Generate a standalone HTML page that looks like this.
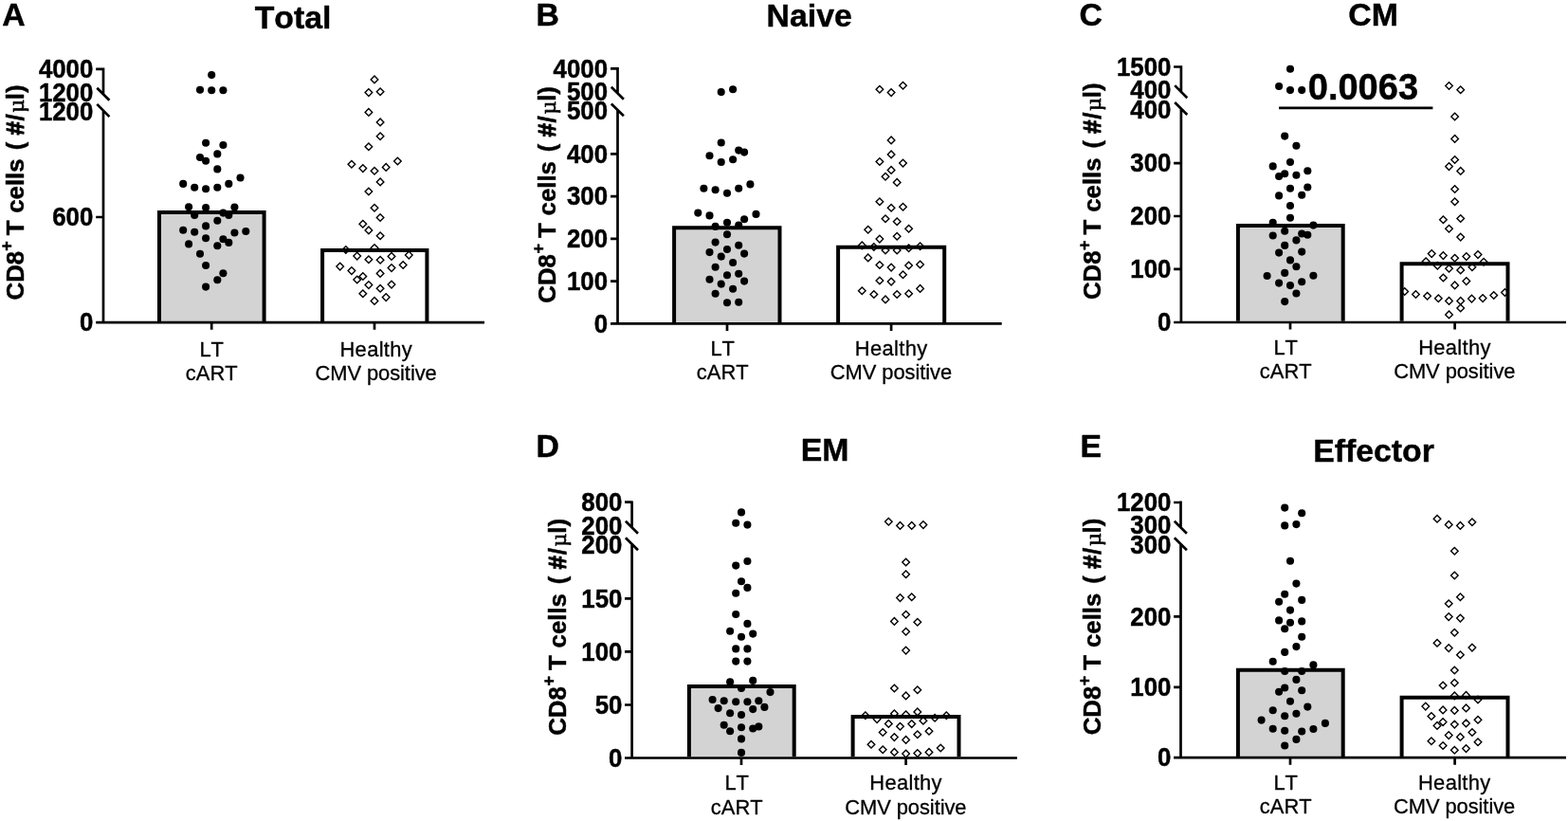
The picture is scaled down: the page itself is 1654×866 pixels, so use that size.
<!DOCTYPE html>
<html lang="en">
<head>
<meta charset="utf-8">
<title>CD8 T cell subsets</title>
<style>
html,body{margin:0;padding:0;background:#fff;}
body{width:1654px;height:866px;overflow:hidden;}
svg{display:block;}
text{font-family:"Liberation Sans",Arial,Helvetica,sans-serif;fill:#000;stroke:#000;stroke-width:0.3px;stroke-linejoin:round;}
.b,.tk,.ti,.le,.yl{stroke-width:0.45px;font-kerning:none;}
.mu{font-family:"Liberation Serif","DejaVu Serif",serif;font-weight:normal;stroke-width:0.7px;}
.hs{stroke-width:1.1px;}
.b{font-weight:bold;}
.tk{font-weight:bold;font-size:25.8px;text-anchor:end;}
.xl{font-size:21.9px;text-anchor:middle;font-kerning:none;}
.ti{font-weight:bold;font-size:33.8px;text-anchor:middle;}
.le{font-weight:bold;font-size:33.8px;}
.yl{font-weight:bold;font-size:25.8px;}
.ax{stroke:#000;stroke-width:2.7;fill:none;}
.bar{stroke:#000;stroke-width:4;}
.d{fill:#000;}
.o{fill:none;stroke:#000;stroke-width:1.4;}
</style>
</head>
<body>
<svg width="1654" height="866" viewBox="0 0 1654 866">
<rect x="0" y="0" width="1654" height="866" fill="#fff"/>

<g id="panel-A">
<text class="le" x="2.2" y="26.6">A</text>
<text class="ti" x="309.1" y="29.6">Total</text>
<text class="yl" transform="translate(24.9 315.2) rotate(-90)"><tspan x="-1.2" y="0">CD8</tspan><tspan x="50.5" y="-11.6" font-size="18">+ </tspan><tspan x="66.9" y="0">T </tspan><tspan x="90.4" y="0">cells </tspan><tspan x="157" y="0">( </tspan><tspan x="172.6" y="0" class="hs">#</tspan><tspan x="187.6" y="0">/</tspan><tspan x="196.4" y="0" class="mu" font-size="24">µ</tspan><tspan x="210" y="0">l)</tspan></text>
<path class="bar" d="M168 339V224H278.6V339" fill="#d3d3d3"/>
<path class="bar" d="M340.1 339V264H450.4V339" fill="#fff"/>
<path class="ax" d="M101.2 340.2H511M109 71.6V99.8M109 115.9V340.2M102.3 92.7L115.4 105.7M102.3 109.9L115.4 123.1M101.2 72.9H109M101.2 229H109M223.2 340.2V347.8M395 340.2V347.8"/>
<text class="tk" transform="translate(98.3 82.1) scale(1 1.04)">4000</text>
<text class="tk" transform="translate(98.3 106.5) scale(1 1.04)">1200</text>
<text class="tk" transform="translate(98.3 126.5) scale(1 1.04)">1200</text>
<text class="tk" transform="translate(98.3 238.2) scale(1 1.04)">600</text>
<text class="tk" transform="translate(98.3 349.4) scale(1 1.04)">0</text>
<text class="xl" transform="translate(223.2 375.6) scale(1 1.03)">LT</text>
<text class="xl" transform="translate(223.2 400.7) scale(1 1.03)">cART</text>
<text class="xl" transform="translate(396.6 375.6) scale(1 1.03)" textLength="76.3" lengthAdjust="spacing">Healthy</text>
<text class="xl" transform="translate(396.6 400.7) scale(1 1.03)" textLength="128.3" lengthAdjust="spacing">CMV positive</text>
<g class="d"><circle cx="223.2" cy="79.1" r="4.05"/><circle cx="211" cy="94.8" r="4.05"/><circle cx="223.2" cy="95.3" r="4.05"/><circle cx="235.4" cy="95.3" r="4.05"/><circle cx="217.1" cy="150.7" r="4.05"/><circle cx="235.4" cy="153" r="4.05"/><circle cx="229.3" cy="162.4" r="4.05"/><circle cx="211" cy="166" r="4.05"/><circle cx="217.1" cy="169.8" r="4.05"/><circle cx="229.3" cy="178.4" r="4.05"/><circle cx="253.5" cy="187.5" r="4.05"/><circle cx="193.2" cy="193.9" r="4.05"/><circle cx="241.3" cy="193.9" r="4.05"/><circle cx="205.2" cy="197.7" r="4.05"/><circle cx="229.3" cy="197.7" r="4.05"/><circle cx="217.1" cy="199.2" r="4.05"/><circle cx="199.1" cy="218.3" r="4.05"/><circle cx="217.1" cy="219.1" r="4.05"/><circle cx="247.4" cy="218.5" r="4.05"/><circle cx="235.4" cy="224.6" r="4.05"/><circle cx="205.2" cy="226.9" r="4.05"/><circle cx="241.3" cy="226.9" r="4.05"/><circle cx="229.3" cy="232.8" r="4.05"/><circle cx="217.1" cy="238.4" r="4.05"/><circle cx="193.2" cy="242.7" r="4.05"/><circle cx="205.2" cy="244.7" r="4.05"/><circle cx="259.3" cy="244" r="4.05"/><circle cx="247.4" cy="245.5" r="4.05"/><circle cx="217.1" cy="251.3" r="4.05"/><circle cx="235.4" cy="252.3" r="4.05"/><circle cx="241.3" cy="255.9" r="4.05"/><circle cx="199.1" cy="257.4" r="4.05"/><circle cx="229.3" cy="259.2" r="4.05"/><circle cx="211" cy="267.8" r="4.05"/><circle cx="217.1" cy="280" r="4.05"/><circle cx="235.4" cy="288.2" r="4.05"/><circle cx="229.3" cy="295.3" r="4.05"/><circle cx="217.1" cy="302.6" r="4.05"/></g>
<g class="o"><path d="M395 80.1l3.8 3.8l-3.8 3.8l-3.8 -3.8z"/><path d="M388.9 93.8l3.8 3.8l-3.8 3.8l-3.8 -3.8z"/><path d="M401.1 93l3.8 3.8l-3.8 3.8l-3.8 -3.8z"/><path d="M388.9 114.6l3.8 3.8l-3.8 3.8l-3.8 -3.8z"/><path d="M401.1 125.1l3.8 3.8l-3.8 3.8l-3.8 -3.8z"/><path d="M401.1 140l3.8 3.8l-3.8 3.8l-3.8 -3.8z"/><path d="M388.9 151l3.8 3.8l-3.8 3.8l-3.8 -3.8z"/><path d="M419.4 166.2l3.8 3.8l-3.8 3.8l-3.8 -3.8z"/><path d="M370.9 169.5l3.8 3.8l-3.8 3.8l-3.8 -3.8z"/><path d="M407.2 172.6l3.8 3.8l-3.8 3.8l-3.8 -3.8z"/><path d="M382.8 173.8l3.8 3.8l-3.8 3.8l-3.8 -3.8z"/><path d="M395 176.4l3.8 3.8l-3.8 3.8l-3.8 -3.8z"/><path d="M401.1 188.1l3.8 3.8l-3.8 3.8l-3.8 -3.8z"/><path d="M388.9 198.2l3.8 3.8l-3.8 3.8l-3.8 -3.8z"/><path d="M395 215.5l3.8 3.8l-3.8 3.8l-3.8 -3.8z"/><path d="M401.1 225.7l3.8 3.8l-3.8 3.8l-3.8 -3.8z"/><path d="M382.8 232.5l3.8 3.8l-3.8 3.8l-3.8 -3.8z"/><path d="M388.9 239.1l3.8 3.8l-3.8 3.8l-3.8 -3.8z"/><path d="M401.1 245l3.8 3.8l-3.8 3.8l-3.8 -3.8z"/><path d="M395 257.7l3.8 3.8l-3.8 3.8l-3.8 -3.8z"/><path d="M364.8 259.7l3.8 3.8l-3.8 3.8l-3.8 -3.8z"/><path d="M431.3 265.3l3.8 3.8l-3.8 3.8l-3.8 -3.8z"/><path d="M376.7 266.3l3.8 3.8l-3.8 3.8l-3.8 -3.8z"/><path d="M413 266.6l3.8 3.8l-3.8 3.8l-3.8 -3.8z"/><path d="M388.9 269.9l3.8 3.8l-3.8 3.8l-3.8 -3.8z"/><path d="M401.1 270.4l3.8 3.8l-3.8 3.8l-3.8 -3.8z"/><path d="M358.7 277.3l3.8 3.8l-3.8 3.8l-3.8 -3.8z"/><path d="M425.2 275.7l3.8 3.8l-3.8 3.8l-3.8 -3.8z"/><path d="M413 278.8l3.8 3.8l-3.8 3.8l-3.8 -3.8z"/><path d="M370.9 281.8l3.8 3.8l-3.8 3.8l-3.8 -3.8z"/><path d="M401.1 284.6l3.8 3.8l-3.8 3.8l-3.8 -3.8z"/><path d="M382.8 287.7l3.8 3.8l-3.8 3.8l-3.8 -3.8z"/><path d="M376.7 291.2l3.8 3.8l-3.8 3.8l-3.8 -3.8z"/><path d="M388.9 296.8l3.8 3.8l-3.8 3.8l-3.8 -3.8z"/><path d="M413 296.3l3.8 3.8l-3.8 3.8l-3.8 -3.8z"/><path d="M401.1 300.4l3.8 3.8l-3.8 3.8l-3.8 -3.8z"/><path d="M382.8 306l3.8 3.8l-3.8 3.8l-3.8 -3.8z"/><path d="M407.2 309.8l3.8 3.8l-3.8 3.8l-3.8 -3.8z"/><path d="M395 313.6l3.8 3.8l-3.8 3.8l-3.8 -3.8z"/></g>
</g>
<g id="panel-B">
<text class="le" x="565.5" y="26.7">B</text>
<text class="ti" x="853.7" y="28.4">Naive</text>
<text class="yl" transform="translate(585.7 318.5) rotate(-90)" font-size="26.16"><tspan x="-1.2" y="0">CD8</tspan><tspan x="50.9" y="-11.6" font-size="18">+ </tspan><tspan x="67.4" y="0">T </tspan><tspan x="91.1" y="0">cells </tspan><tspan x="158.3" y="0">( </tspan><tspan x="174" y="0" class="hs">#</tspan><tspan x="189.1" y="0">/</tspan><tspan x="198" y="0" class="mu" font-size="24">µ</tspan><tspan x="211.7" y="0">l)</tspan></text>
<path class="bar" d="M711.1 340.2V240.2H822.5V340.2" fill="#d3d3d3"/>
<path class="bar" d="M884.1 340.2V260.8H996.2V340.2" fill="#fff"/>
<path class="ax" d="M644 341.4H1056.7M651.5 71V98.9M651.5 115.2V341.4M644.8 91.8L657.9 104.8M644.8 109.5L657.9 122.2M644 72.3H651.5M644 162.3H651.5M644 207.1H651.5M644 251.9H651.5M644 296.6H651.5M767 341.4V349M940.1 341.4V349"/>
<text class="tk" transform="translate(641 81.5) scale(1 1.04)">4000</text>
<text class="tk" transform="translate(641 105.6) scale(1 1.04)">500</text>
<text class="tk" transform="translate(641 126) scale(1 1.04)">500</text>
<text class="tk" transform="translate(641 171.5) scale(1 1.04)">400</text>
<text class="tk" transform="translate(641 216.3) scale(1 1.04)">300</text>
<text class="tk" transform="translate(641 261.1) scale(1 1.04)">200</text>
<text class="tk" transform="translate(641 305.8) scale(1 1.04)">100</text>
<text class="tk" transform="translate(641 350.6) scale(1 1.04)">0</text>
<text class="xl" transform="translate(762.2 375.1) scale(1 1.03)">LT</text>
<text class="xl" transform="translate(762.2 400.3) scale(1 1.03)">cART</text>
<text class="xl" transform="translate(940 375.1) scale(1 1.03)" textLength="76.3" lengthAdjust="spacing">Healthy</text>
<text class="xl" transform="translate(940 400.3) scale(1 1.03)" textLength="128.3" lengthAdjust="spacing">CMV positive</text>
<g class="d"><circle cx="760.7" cy="97.1" r="4.05"/><circle cx="773.1" cy="94.3" r="4.05"/><circle cx="760.7" cy="150.5" r="4.05"/><circle cx="779.2" cy="158.6" r="4.05"/><circle cx="785.1" cy="160.6" r="4.05"/><circle cx="748.5" cy="164.2" r="4.05"/><circle cx="773.1" cy="168.2" r="4.05"/><circle cx="760.7" cy="171" r="4.05"/><circle cx="791.4" cy="194.4" r="4.05"/><circle cx="742.4" cy="198.7" r="4.05"/><circle cx="779.2" cy="198.7" r="4.05"/><circle cx="754.6" cy="200.3" r="4.05"/><circle cx="767" cy="203.8" r="4.05"/><circle cx="736.3" cy="224.6" r="4.05"/><circle cx="797.5" cy="225.9" r="4.05"/><circle cx="748.5" cy="227.4" r="4.05"/><circle cx="785.1" cy="231.3" r="4.05"/><circle cx="767" cy="234.8" r="4.05"/><circle cx="754.6" cy="238.9" r="4.05"/><circle cx="779.2" cy="237.6" r="4.05"/><circle cx="767" cy="247.3" r="4.05"/><circle cx="754.6" cy="255.6" r="4.05"/><circle cx="779.2" cy="258.7" r="4.05"/><circle cx="767" cy="263" r="4.05"/><circle cx="748.5" cy="266.1" r="4.05"/><circle cx="785.1" cy="267.6" r="4.05"/><circle cx="760.7" cy="270.6" r="4.05"/><circle cx="773.1" cy="277" r="4.05"/><circle cx="754.6" cy="281.8" r="4.05"/><circle cx="779.2" cy="288.7" r="4.05"/><circle cx="767" cy="290.2" r="4.05"/><circle cx="748.5" cy="294.8" r="4.05"/><circle cx="785.1" cy="296.6" r="4.05"/><circle cx="760.7" cy="299.6" r="4.05"/><circle cx="773.1" cy="304.7" r="4.05"/><circle cx="754.6" cy="309.8" r="4.05"/><circle cx="767" cy="319.2" r="4.05"/><circle cx="779.2" cy="318.7" r="4.05"/></g>
<g class="o"><path d="M927.9 90.5l3.8 3.8l-3.8 3.8l-3.8 -3.8z"/><path d="M940.1 93.8l3.8 3.8l-3.8 3.8l-3.8 -3.8z"/><path d="M952.5 86.4l3.8 3.8l-3.8 3.8l-3.8 -3.8z"/><path d="M940.1 144.1l3.8 3.8l-3.8 3.8l-3.8 -3.8z"/><path d="M940.1 159.1l3.8 3.8l-3.8 3.8l-3.8 -3.8z"/><path d="M927.9 166.7l3.8 3.8l-3.8 3.8l-3.8 -3.8z"/><path d="M952.5 168.3l3.8 3.8l-3.8 3.8l-3.8 -3.8z"/><path d="M940.1 175.6l3.8 3.8l-3.8 3.8l-3.8 -3.8z"/><path d="M934 182.5l3.8 3.8l-3.8 3.8l-3.8 -3.8z"/><path d="M946.2 188.6l3.8 3.8l-3.8 3.8l-3.8 -3.8z"/><path d="M927.9 208.9l3.8 3.8l-3.8 3.8l-3.8 -3.8z"/><path d="M940.1 215.5l3.8 3.8l-3.8 3.8l-3.8 -3.8z"/><path d="M952.5 214.5l3.8 3.8l-3.8 3.8l-3.8 -3.8z"/><path d="M934 226.9l3.8 3.8l-3.8 3.8l-3.8 -3.8z"/><path d="M946.2 230l3.8 3.8l-3.8 3.8l-3.8 -3.8z"/><path d="M915.7 238.4l3.8 3.8l-3.8 3.8l-3.8 -3.8z"/><path d="M958.6 237.4l3.8 3.8l-3.8 3.8l-3.8 -3.8z"/><path d="M946.2 245.5l3.8 3.8l-3.8 3.8l-3.8 -3.8z"/><path d="M927.9 248.3l3.8 3.8l-3.8 3.8l-3.8 -3.8z"/><path d="M909.3 255.1l3.8 3.8l-3.8 3.8l-3.8 -3.8z"/><path d="M921.8 256.7l3.8 3.8l-3.8 3.8l-3.8 -3.8z"/><path d="M934 260.2l3.8 3.8l-3.8 3.8l-3.8 -3.8z"/><path d="M946.2 260.2l3.8 3.8l-3.8 3.8l-3.8 -3.8z"/><path d="M958.6 257.9l3.8 3.8l-3.8 3.8l-3.8 -3.8z"/><path d="M970.6 255.9l3.8 3.8l-3.8 3.8l-3.8 -3.8z"/><path d="M915.7 268.1l3.8 3.8l-3.8 3.8l-3.8 -3.8z"/><path d="M927.9 275.7l3.8 3.8l-3.8 3.8l-3.8 -3.8z"/><path d="M940.1 278.3l3.8 3.8l-3.8 3.8l-3.8 -3.8z"/><path d="M958.6 276.2l3.8 3.8l-3.8 3.8l-3.8 -3.8z"/><path d="M970.6 275.2l3.8 3.8l-3.8 3.8l-3.8 -3.8z"/><path d="M952.5 285.9l3.8 3.8l-3.8 3.8l-3.8 -3.8z"/><path d="M927.9 292.2l3.8 3.8l-3.8 3.8l-3.8 -3.8z"/><path d="M940.1 293.3l3.8 3.8l-3.8 3.8l-3.8 -3.8z"/><path d="M909.3 302.9l3.8 3.8l-3.8 3.8l-3.8 -3.8z"/><path d="M921.8 306.7l3.8 3.8l-3.8 3.8l-3.8 -3.8z"/><path d="M934 312.1l3.8 3.8l-3.8 3.8l-3.8 -3.8z"/><path d="M946.2 306.7l3.8 3.8l-3.8 3.8l-3.8 -3.8z"/><path d="M958.6 306l3.8 3.8l-3.8 3.8l-3.8 -3.8z"/><path d="M970.6 300.6l3.8 3.8l-3.8 3.8l-3.8 -3.8z"/></g>
</g>
<g id="panel-C">
<text class="le" x="1138.4" y="26.6">C</text>
<text class="ti" x="1448.5" y="26.6">CM</text>
<text class="yl" transform="translate(1161.2 314.9) rotate(-90)" font-size="26.16"><tspan x="-1.2" y="0">CD8</tspan><tspan x="50.9" y="-11.6" font-size="18">+ </tspan><tspan x="67.4" y="0">T </tspan><tspan x="91.1" y="0">cells </tspan><tspan x="158.3" y="0">( </tspan><tspan x="174" y="0" class="hs">#</tspan><tspan x="189.1" y="0">/</tspan><tspan x="198" y="0" class="mu" font-size="24">µ</tspan><tspan x="211.7" y="0">l)</tspan></text>
<path class="bar" d="M1305.9 338.8V238H1416.7V338.8" fill="#d3d3d3"/>
<path class="bar" d="M1478.6 338.8V278.2H1590.5V338.8" fill="#fff"/>
<path class="ax" d="M1238.1 340H1652M1245.9 69.2V97.3M1245.9 113.9V340M1239.2 90.1L1252.3 103.3M1239.2 108L1252.3 121M1238.1 70.5H1245.9M1238.1 172.1H1245.9M1238.1 228H1245.9M1238.1 283.9H1245.9M1361 340V347.6M1534.6 340V347.6"/>
<text class="tk" transform="translate(1235.4 79.7) scale(1 1.04)">1500</text>
<text class="tk" transform="translate(1235.4 103.6) scale(1 1.04)">400</text>
<text class="tk" transform="translate(1235.4 124.7) scale(1 1.04)">400</text>
<text class="tk" transform="translate(1235.4 181.3) scale(1 1.04)">300</text>
<text class="tk" transform="translate(1235.4 237.2) scale(1 1.04)">200</text>
<text class="tk" transform="translate(1235.4 293.1) scale(1 1.04)">100</text>
<text class="tk" transform="translate(1235.4 349.2) scale(1 1.04)">0</text>
<text class="xl" transform="translate(1356.2 373.6) scale(1 1.03)">LT</text>
<text class="xl" transform="translate(1356.2 398.9) scale(1 1.03)">cART</text>
<text class="xl" transform="translate(1534.3 373.6) scale(1 1.03)" textLength="76.3" lengthAdjust="spacing">Healthy</text>
<text class="xl" transform="translate(1534.3 398.9) scale(1 1.03)" textLength="128.3" lengthAdjust="spacing">CMV positive</text>
<text class="b" font-size="38" x="1379.8" y="105.0">0.0063</text>
<path class="ax" d="M1349.1 113.9H1511.4"/>
<g class="d"><circle cx="1361" cy="72.7" r="4.05"/><circle cx="1349.1" cy="91" r="4.05"/><circle cx="1361" cy="95.1" r="4.05"/><circle cx="1373.2" cy="95.1" r="4.05"/><circle cx="1355.2" cy="143.6" r="4.05"/><circle cx="1367.4" cy="153.8" r="4.05"/><circle cx="1361" cy="171" r="4.05"/><circle cx="1342.7" cy="175.4" r="4.05"/><circle cx="1379.3" cy="180.2" r="4.05"/><circle cx="1355.2" cy="183.2" r="4.05"/><circle cx="1349.1" cy="186" r="4.05"/><circle cx="1367.4" cy="184.8" r="4.05"/><circle cx="1361" cy="198.7" r="4.05"/><circle cx="1379.3" cy="197.5" r="4.05"/><circle cx="1349.1" cy="206.4" r="4.05"/><circle cx="1373.2" cy="205.8" r="4.05"/><circle cx="1361" cy="217" r="4.05"/><circle cx="1361" cy="229.7" r="4.05"/><circle cx="1342.7" cy="234.8" r="4.05"/><circle cx="1385.4" cy="237.6" r="4.05"/><circle cx="1355.2" cy="243.7" r="4.05"/><circle cx="1373.2" cy="246.5" r="4.05"/><circle cx="1379.3" cy="247.8" r="4.05"/><circle cx="1342.7" cy="248.5" r="4.05"/><circle cx="1367.4" cy="253.4" r="4.05"/><circle cx="1355.2" cy="258.9" r="4.05"/><circle cx="1349.1" cy="266.6" r="4.05"/><circle cx="1373.2" cy="265.6" r="4.05"/><circle cx="1361" cy="274.4" r="4.05"/><circle cx="1367.4" cy="281.3" r="4.05"/><circle cx="1355.2" cy="287.9" r="4.05"/><circle cx="1336.6" cy="291" r="4.05"/><circle cx="1385.4" cy="290.7" r="4.05"/><circle cx="1349.1" cy="298.6" r="4.05"/><circle cx="1373.2" cy="297.3" r="4.05"/><circle cx="1361" cy="301.1" r="4.05"/><circle cx="1367.4" cy="309.5" r="4.05"/><circle cx="1355.2" cy="318.1" r="4.05"/></g>
<g class="o"><path d="M1528.5 86.7l3.8 3.8l-3.8 3.8l-3.8 -3.8z"/><path d="M1540.7 91l3.8 3.8l-3.8 3.8l-3.8 -3.8z"/><path d="M1534.6 119.2l3.8 3.8l-3.8 3.8l-3.8 -3.8z"/><path d="M1534.6 142.6l3.8 3.8l-3.8 3.8l-3.8 -3.8z"/><path d="M1534.6 164.7l3.8 3.8l-3.8 3.8l-3.8 -3.8z"/><path d="M1528.5 171.8l3.8 3.8l-3.8 3.8l-3.8 -3.8z"/><path d="M1540.7 176.6l3.8 3.8l-3.8 3.8l-3.8 -3.8z"/><path d="M1534.6 195.7l3.8 3.8l-3.8 3.8l-3.8 -3.8z"/><path d="M1534.6 208.9l3.8 3.8l-3.8 3.8l-3.8 -3.8z"/><path d="M1522.4 228l3.8 3.8l-3.8 3.8l-3.8 -3.8z"/><path d="M1540.7 226.7l3.8 3.8l-3.8 3.8l-3.8 -3.8z"/><path d="M1528.5 237.4l3.8 3.8l-3.8 3.8l-3.8 -3.8z"/><path d="M1540.7 246.3l3.8 3.8l-3.8 3.8l-3.8 -3.8z"/><path d="M1510.2 263.8l3.8 3.8l-3.8 3.8l-3.8 -3.8z"/><path d="M1522.4 265.8l3.8 3.8l-3.8 3.8l-3.8 -3.8z"/><path d="M1534.6 268.4l3.8 3.8l-3.8 3.8l-3.8 -3.8z"/><path d="M1546.8 266.8l3.8 3.8l-3.8 3.8l-3.8 -3.8z"/><path d="M1559 264.8l3.8 3.8l-3.8 3.8l-3.8 -3.8z"/><path d="M1504.1 271.9l3.8 3.8l-3.8 3.8l-3.8 -3.8z"/><path d="M1565.1 272.4l3.8 3.8l-3.8 3.8l-3.8 -3.8z"/><path d="M1516.3 276.5l3.8 3.8l-3.8 3.8l-3.8 -3.8z"/><path d="M1552.9 278l3.8 3.8l-3.8 3.8l-3.8 -3.8z"/><path d="M1528.5 279.5l3.8 3.8l-3.8 3.8l-3.8 -3.8z"/><path d="M1540.7 281.1l3.8 3.8l-3.8 3.8l-3.8 -3.8z"/><path d="M1522.4 289.2l3.8 3.8l-3.8 3.8l-3.8 -3.8z"/><path d="M1546.8 292.8l3.8 3.8l-3.8 3.8l-3.8 -3.8z"/><path d="M1534.6 297.1l3.8 3.8l-3.8 3.8l-3.8 -3.8z"/><path d="M1481.7 303.7l3.8 3.8l-3.8 3.8l-3.8 -3.8z"/><path d="M1493.4 306.7l3.8 3.8l-3.8 3.8l-3.8 -3.8z"/><path d="M1505.6 308.5l3.8 3.8l-3.8 3.8l-3.8 -3.8z"/><path d="M1517.3 311l3.8 3.8l-3.8 3.8l-3.8 -3.8z"/><path d="M1528.5 313.6l3.8 3.8l-3.8 3.8l-3.8 -3.8z"/><path d="M1540.7 313.6l3.8 3.8l-3.8 3.8l-3.8 -3.8z"/><path d="M1552.4 311.3l3.8 3.8l-3.8 3.8l-3.8 -3.8z"/><path d="M1564.1 310.8l3.8 3.8l-3.8 3.8l-3.8 -3.8z"/><path d="M1575.7 307.7l3.8 3.8l-3.8 3.8l-3.8 -3.8z"/><path d="M1587.4 304.7l3.8 3.8l-3.8 3.8l-3.8 -3.8z"/><path d="M1540.7 321.2l3.8 3.8l-3.8 3.8l-3.8 -3.8z"/><path d="M1528.5 328.1l3.8 3.8l-3.8 3.8l-3.8 -3.8z"/></g>
</g>
<g id="panel-D">
<text class="le" x="565.5" y="482.4">D</text>
<text class="ti" x="870" y="486">EM</text>
<text class="yl" transform="translate(596.8 774.6) rotate(-90)" font-size="26.19"><tspan x="-1.2" y="0">CD8</tspan><tspan x="51" y="-11.6" font-size="18">+ </tspan><tspan x="67.5" y="0">T </tspan><tspan x="91.2" y="0">cells </tspan><tspan x="158.4" y="0">( </tspan><tspan x="174.2" y="0" class="hs">#</tspan><tspan x="189.3" y="0">/</tspan><tspan x="198.2" y="0" class="mu" font-size="24">µ</tspan><tspan x="211.9" y="0">l)</tspan></text>
<path class="bar" d="M726.9 798.3V724.1H837.7V798.3" fill="#d3d3d3"/>
<path class="bar" d="M899.6 798.3V756H1011.5V798.3" fill="#fff"/>
<path class="ax" d="M659 799.5H1072.9M666.6 528.4V556.9M666.6 573.1V799.5M659.9 549.8L673 562.8M659.9 567.2L673 580.2M659 529.7H666.6M659 631.4H666.6M659 687.4H666.6M659 743.5H666.6M782 799.5V807.1M955.6 799.5V807.1"/>
<text class="tk" transform="translate(656.4 538.9) scale(1 1.04)">800</text>
<text class="tk" transform="translate(656.4 563.6) scale(1 1.04)">200</text>
<text class="tk" transform="translate(656.4 583.8) scale(1 1.04)">200</text>
<text class="tk" transform="translate(656.4 640.6) scale(1 1.04)">150</text>
<text class="tk" transform="translate(656.4 696.6) scale(1 1.04)">100</text>
<text class="tk" transform="translate(656.4 752.7) scale(1 1.04)">50</text>
<text class="tk" transform="translate(656.4 808.7) scale(1 1.04)">0</text>
<text class="xl" transform="translate(777.2 833.2) scale(1 1.03)">LT</text>
<text class="xl" transform="translate(777.2 858.6) scale(1 1.03)">cART</text>
<text class="xl" transform="translate(955.4 833.2) scale(1 1.03)" textLength="76.3" lengthAdjust="spacing">Healthy</text>
<text class="xl" transform="translate(955.4 858.6) scale(1 1.03)" textLength="128.3" lengthAdjust="spacing">CMV positive</text>
<g class="d"><circle cx="782" cy="540.4" r="4.05"/><circle cx="776.2" cy="551.8" r="4.05"/><circle cx="788.4" cy="553.6" r="4.05"/><circle cx="788.4" cy="592" r="4.05"/><circle cx="776.2" cy="596.6" r="4.05"/><circle cx="782" cy="613.3" r="4.05"/><circle cx="788.4" cy="619.9" r="4.05"/><circle cx="776.2" cy="625.8" r="4.05"/><circle cx="776.2" cy="648" r="4.05"/><circle cx="788.4" cy="657.9" r="4.05"/><circle cx="770.1" cy="665.8" r="4.05"/><circle cx="794.2" cy="668.6" r="4.05"/><circle cx="782" cy="671.7" r="4.05"/><circle cx="776.2" cy="684.4" r="4.05"/><circle cx="788.4" cy="684.4" r="4.05"/><circle cx="776.2" cy="697.6" r="4.05"/><circle cx="788.4" cy="697.6" r="4.05"/><circle cx="770.1" cy="719.2" r="4.05"/><circle cx="794.2" cy="717.9" r="4.05"/><circle cx="782" cy="726" r="4.05"/><circle cx="812.5" cy="730.1" r="4.05"/><circle cx="751.6" cy="738" r="4.05"/><circle cx="763.7" cy="739.2" r="4.05"/><circle cx="776.2" cy="740.3" r="4.05"/><circle cx="788.4" cy="740.3" r="4.05"/><circle cx="800.3" cy="739.2" r="4.05"/><circle cx="757.6" cy="747.1" r="4.05"/><circle cx="806.4" cy="745.9" r="4.05"/><circle cx="794.2" cy="748.1" r="4.05"/><circle cx="770.1" cy="752.2" r="4.05"/><circle cx="782" cy="754" r="4.05"/><circle cx="763.7" cy="764.7" r="4.05"/><circle cx="800.3" cy="766.4" r="4.05"/><circle cx="782" cy="767.2" r="4.05"/><circle cx="794.2" cy="768.5" r="4.05"/><circle cx="770.1" cy="771.3" r="4.05"/><circle cx="782" cy="779.4" r="4.05"/><circle cx="782" cy="793.9" r="4.05"/></g>
<g class="o"><path d="M937.3 546.5l3.8 3.8l-3.8 3.8l-3.8 -3.8z"/><path d="M949.5 550.6l3.8 3.8l-3.8 3.8l-3.8 -3.8z"/><path d="M961.7 550.6l3.8 3.8l-3.8 3.8l-3.8 -3.8z"/><path d="M973.9 549.8l3.8 3.8l-3.8 3.8l-3.8 -3.8z"/><path d="M955.6 589.2l3.8 3.8l-3.8 3.8l-3.8 -3.8z"/><path d="M955.6 601.9l3.8 3.8l-3.8 3.8l-3.8 -3.8z"/><path d="M949.5 626.8l3.8 3.8l-3.8 3.8l-3.8 -3.8z"/><path d="M961.7 626l3.8 3.8l-3.8 3.8l-3.8 -3.8z"/><path d="M955.6 644.5l3.8 3.8l-3.8 3.8l-3.8 -3.8z"/><path d="M943.4 651.6l3.8 3.8l-3.8 3.8l-3.8 -3.8z"/><path d="M967.8 652.4l3.8 3.8l-3.8 3.8l-3.8 -3.8z"/><path d="M955.6 662.5l3.8 3.8l-3.8 3.8l-3.8 -3.8z"/><path d="M955.6 682.3l3.8 3.8l-3.8 3.8l-3.8 -3.8z"/><path d="M943.4 722.2l3.8 3.8l-3.8 3.8l-3.8 -3.8z"/><path d="M967.8 724l3.8 3.8l-3.8 3.8l-3.8 -3.8z"/><path d="M955.6 730.1l3.8 3.8l-3.8 3.8l-3.8 -3.8z"/><path d="M912.9 750.9l3.8 3.8l-3.8 3.8l-3.8 -3.8z"/><path d="M943.4 748.9l3.8 3.8l-3.8 3.8l-3.8 -3.8z"/><path d="M955.6 749.9l3.8 3.8l-3.8 3.8l-3.8 -3.8z"/><path d="M967.8 747.1l3.8 3.8l-3.8 3.8l-3.8 -3.8z"/><path d="M998.3 750.9l3.8 3.8l-3.8 3.8l-3.8 -3.8z"/><path d="M925.1 754.8l3.8 3.8l-3.8 3.8l-3.8 -3.8z"/><path d="M986.1 753.5l3.8 3.8l-3.8 3.8l-3.8 -3.8z"/><path d="M973.9 756.5l3.8 3.8l-3.8 3.8l-3.8 -3.8z"/><path d="M937.3 759.6l3.8 3.8l-3.8 3.8l-3.8 -3.8z"/><path d="M949.5 762.4l3.8 3.8l-3.8 3.8l-3.8 -3.8z"/><path d="M961.7 759.8l3.8 3.8l-3.8 3.8l-3.8 -3.8z"/><path d="M931.2 768.7l3.8 3.8l-3.8 3.8l-3.8 -3.8z"/><path d="M980 767.5l3.8 3.8l-3.8 3.8l-3.8 -3.8z"/><path d="M967.8 771l3.8 3.8l-3.8 3.8l-3.8 -3.8z"/><path d="M943.4 773.8l3.8 3.8l-3.8 3.8l-3.8 -3.8z"/><path d="M955.6 776.6l3.8 3.8l-3.8 3.8l-3.8 -3.8z"/><path d="M919 781.4l3.8 3.8l-3.8 3.8l-3.8 -3.8z"/><path d="M992.2 785.2l3.8 3.8l-3.8 3.8l-3.8 -3.8z"/><path d="M931.2 787l3.8 3.8l-3.8 3.8l-3.8 -3.8z"/><path d="M943.4 789.6l3.8 3.8l-3.8 3.8l-3.8 -3.8z"/><path d="M955.6 791.3l3.8 3.8l-3.8 3.8l-3.8 -3.8z"/><path d="M967.8 790.8l3.8 3.8l-3.8 3.8l-3.8 -3.8z"/><path d="M980 789.6l3.8 3.8l-3.8 3.8l-3.8 -3.8z"/></g>
</g>
<g id="panel-E">
<text class="le" x="1139.4" y="482.2">E</text>
<text class="ti" x="1449" y="486.6">Effector</text>
<text class="yl" transform="translate(1161.1 774.1) rotate(-90)" font-size="26.16"><tspan x="-1.2" y="0">CD8</tspan><tspan x="50.9" y="-11.6" font-size="18">+ </tspan><tspan x="67.4" y="0">T </tspan><tspan x="91.1" y="0">cells </tspan><tspan x="158.3" y="0">( </tspan><tspan x="174" y="0" class="hs">#</tspan><tspan x="189.1" y="0">/</tspan><tspan x="198" y="0" class="mu" font-size="24">µ</tspan><tspan x="211.7" y="0">l)</tspan></text>
<path class="bar" d="M1305.9 798V706.8H1416.7V798" fill="#d3d3d3"/>
<path class="bar" d="M1478.6 798V735.7H1590.5V798" fill="#fff"/>
<path class="ax" d="M1238.1 799.2H1652M1245.5 528.6V556.9M1245.5 573.1V799.2M1238.8 549.8L1251.9 562.8M1238.8 567.2L1251.9 580.2M1238.1 530H1245.5M1238.1 650.3H1245.5M1238.1 724.8H1245.5M1361 799.2V806.8M1534.6 799.2V806.8"/>
<text class="tk" transform="translate(1235.4 539.2) scale(1 1.04)">1200</text>
<text class="tk" transform="translate(1235.4 563.4) scale(1 1.04)">300</text>
<text class="tk" transform="translate(1235.4 583.7) scale(1 1.04)">300</text>
<text class="tk" transform="translate(1235.4 659.5) scale(1 1.04)">200</text>
<text class="tk" transform="translate(1235.4 734) scale(1 1.04)">100</text>
<text class="tk" transform="translate(1235.4 808.4) scale(1 1.04)">0</text>
<text class="xl" transform="translate(1356.2 832.8) scale(1 1.03)">LT</text>
<text class="xl" transform="translate(1356.2 857.9) scale(1 1.03)">cART</text>
<text class="xl" transform="translate(1534.1 832.8) scale(1 1.03)" textLength="76.3" lengthAdjust="spacing">Healthy</text>
<text class="xl" transform="translate(1534.1 857.9) scale(1 1.03)" textLength="128.3" lengthAdjust="spacing">CMV positive</text>
<g class="d"><circle cx="1355.2" cy="535.6" r="4.05"/><circle cx="1373.2" cy="541.2" r="4.05"/><circle cx="1355.2" cy="554.4" r="4.05"/><circle cx="1367.4" cy="553.1" r="4.05"/><circle cx="1361" cy="591.7" r="4.05"/><circle cx="1367.4" cy="615.6" r="4.05"/><circle cx="1355.2" cy="626.8" r="4.05"/><circle cx="1349.1" cy="634.7" r="4.05"/><circle cx="1373.2" cy="632.9" r="4.05"/><circle cx="1361" cy="643.6" r="4.05"/><circle cx="1349.1" cy="654.4" r="4.05"/><circle cx="1361" cy="656.7" r="4.05"/><circle cx="1373.2" cy="655.4" r="4.05"/><circle cx="1355.2" cy="663.3" r="4.05"/><circle cx="1373.2" cy="671.7" r="4.05"/><circle cx="1367.4" cy="682.1" r="4.05"/><circle cx="1355.2" cy="687.9" r="4.05"/><circle cx="1342.7" cy="697.8" r="4.05"/><circle cx="1385.4" cy="701.4" r="4.05"/><circle cx="1355.2" cy="708" r="4.05"/><circle cx="1373.2" cy="708" r="4.05"/><circle cx="1367.4" cy="716.9" r="4.05"/><circle cx="1355.2" cy="725.5" r="4.05"/><circle cx="1349.1" cy="729.8" r="4.05"/><circle cx="1373.2" cy="728.3" r="4.05"/><circle cx="1361" cy="739.8" r="4.05"/><circle cx="1379.3" cy="745.6" r="4.05"/><circle cx="1342.7" cy="749.2" r="4.05"/><circle cx="1367.4" cy="752.7" r="4.05"/><circle cx="1355.2" cy="755.3" r="4.05"/><circle cx="1330.6" cy="759.6" r="4.05"/><circle cx="1397.9" cy="762.9" r="4.05"/><circle cx="1342.7" cy="768.7" r="4.05"/><circle cx="1385.4" cy="769" r="4.05"/><circle cx="1355.2" cy="770.8" r="4.05"/><circle cx="1373.2" cy="771.5" r="4.05"/><circle cx="1367.4" cy="779.9" r="4.05"/><circle cx="1355.2" cy="786.5" r="4.05"/></g>
<g class="o"><path d="M1516 543.5l3.8 3.8l-3.8 3.8l-3.8 -3.8z"/><path d="M1528.2 549.6l3.8 3.8l-3.8 3.8l-3.8 -3.8z"/><path d="M1540.4 550.6l3.8 3.8l-3.8 3.8l-3.8 -3.8z"/><path d="M1552.9 547l3.8 3.8l-3.8 3.8l-3.8 -3.8z"/><path d="M1534.3 577.5l3.8 3.8l-3.8 3.8l-3.8 -3.8z"/><path d="M1534.3 603.2l3.8 3.8l-3.8 3.8l-3.8 -3.8z"/><path d="M1540.4 626l3.8 3.8l-3.8 3.8l-3.8 -3.8z"/><path d="M1528.2 632.9l3.8 3.8l-3.8 3.8l-3.8 -3.8z"/><path d="M1528.2 646.8l3.8 3.8l-3.8 3.8l-3.8 -3.8z"/><path d="M1540.4 648.3l3.8 3.8l-3.8 3.8l-3.8 -3.8z"/><path d="M1534.3 663.5l3.8 3.8l-3.8 3.8l-3.8 -3.8z"/><path d="M1516 674.5l3.8 3.8l-3.8 3.8l-3.8 -3.8z"/><path d="M1528.2 679.8l3.8 3.8l-3.8 3.8l-3.8 -3.8z"/><path d="M1552.9 679.3l3.8 3.8l-3.8 3.8l-3.8 -3.8z"/><path d="M1540.4 686.9l3.8 3.8l-3.8 3.8l-3.8 -3.8z"/><path d="M1534.3 703.2l3.8 3.8l-3.8 3.8l-3.8 -3.8z"/><path d="M1534.3 716.4l3.8 3.8l-3.8 3.8l-3.8 -3.8z"/><path d="M1522.1 719.2l3.8 3.8l-3.8 3.8l-3.8 -3.8z"/><path d="M1534.3 730.1l3.8 3.8l-3.8 3.8l-3.8 -3.8z"/><path d="M1546.5 729.6l3.8 3.8l-3.8 3.8l-3.8 -3.8z"/><path d="M1559 734.2l3.8 3.8l-3.8 3.8l-3.8 -3.8z"/><path d="M1503.8 741.3l3.8 3.8l-3.8 3.8l-3.8 -3.8z"/><path d="M1522.1 745.1l3.8 3.8l-3.8 3.8l-3.8 -3.8z"/><path d="M1534.3 745.6l3.8 3.8l-3.8 3.8l-3.8 -3.8z"/><path d="M1546.5 743.1l3.8 3.8l-3.8 3.8l-3.8 -3.8z"/><path d="M1509.9 751.7l3.8 3.8l-3.8 3.8l-3.8 -3.8z"/><path d="M1559 755.5l3.8 3.8l-3.8 3.8l-3.8 -3.8z"/><path d="M1522.1 757.8l3.8 3.8l-3.8 3.8l-3.8 -3.8z"/><path d="M1516 761.6l3.8 3.8l-3.8 3.8l-3.8 -3.8z"/><path d="M1534.3 760.3l3.8 3.8l-3.8 3.8l-3.8 -3.8z"/><path d="M1546.5 759.1l3.8 3.8l-3.8 3.8l-3.8 -3.8z"/><path d="M1552.9 768.7l3.8 3.8l-3.8 3.8l-3.8 -3.8z"/><path d="M1528.2 771.8l3.8 3.8l-3.8 3.8l-3.8 -3.8z"/><path d="M1540.4 773.6l3.8 3.8l-3.8 3.8l-3.8 -3.8z"/><path d="M1509.9 777.9l3.8 3.8l-3.8 3.8l-3.8 -3.8z"/><path d="M1559 778.9l3.8 3.8l-3.8 3.8l-3.8 -3.8z"/><path d="M1522.1 782.7l3.8 3.8l-3.8 3.8l-3.8 -3.8z"/><path d="M1546.5 785.8l3.8 3.8l-3.8 3.8l-3.8 -3.8z"/><path d="M1534.3 787.5l3.8 3.8l-3.8 3.8l-3.8 -3.8z"/></g>
</g>
</svg>
</body>
</html>
